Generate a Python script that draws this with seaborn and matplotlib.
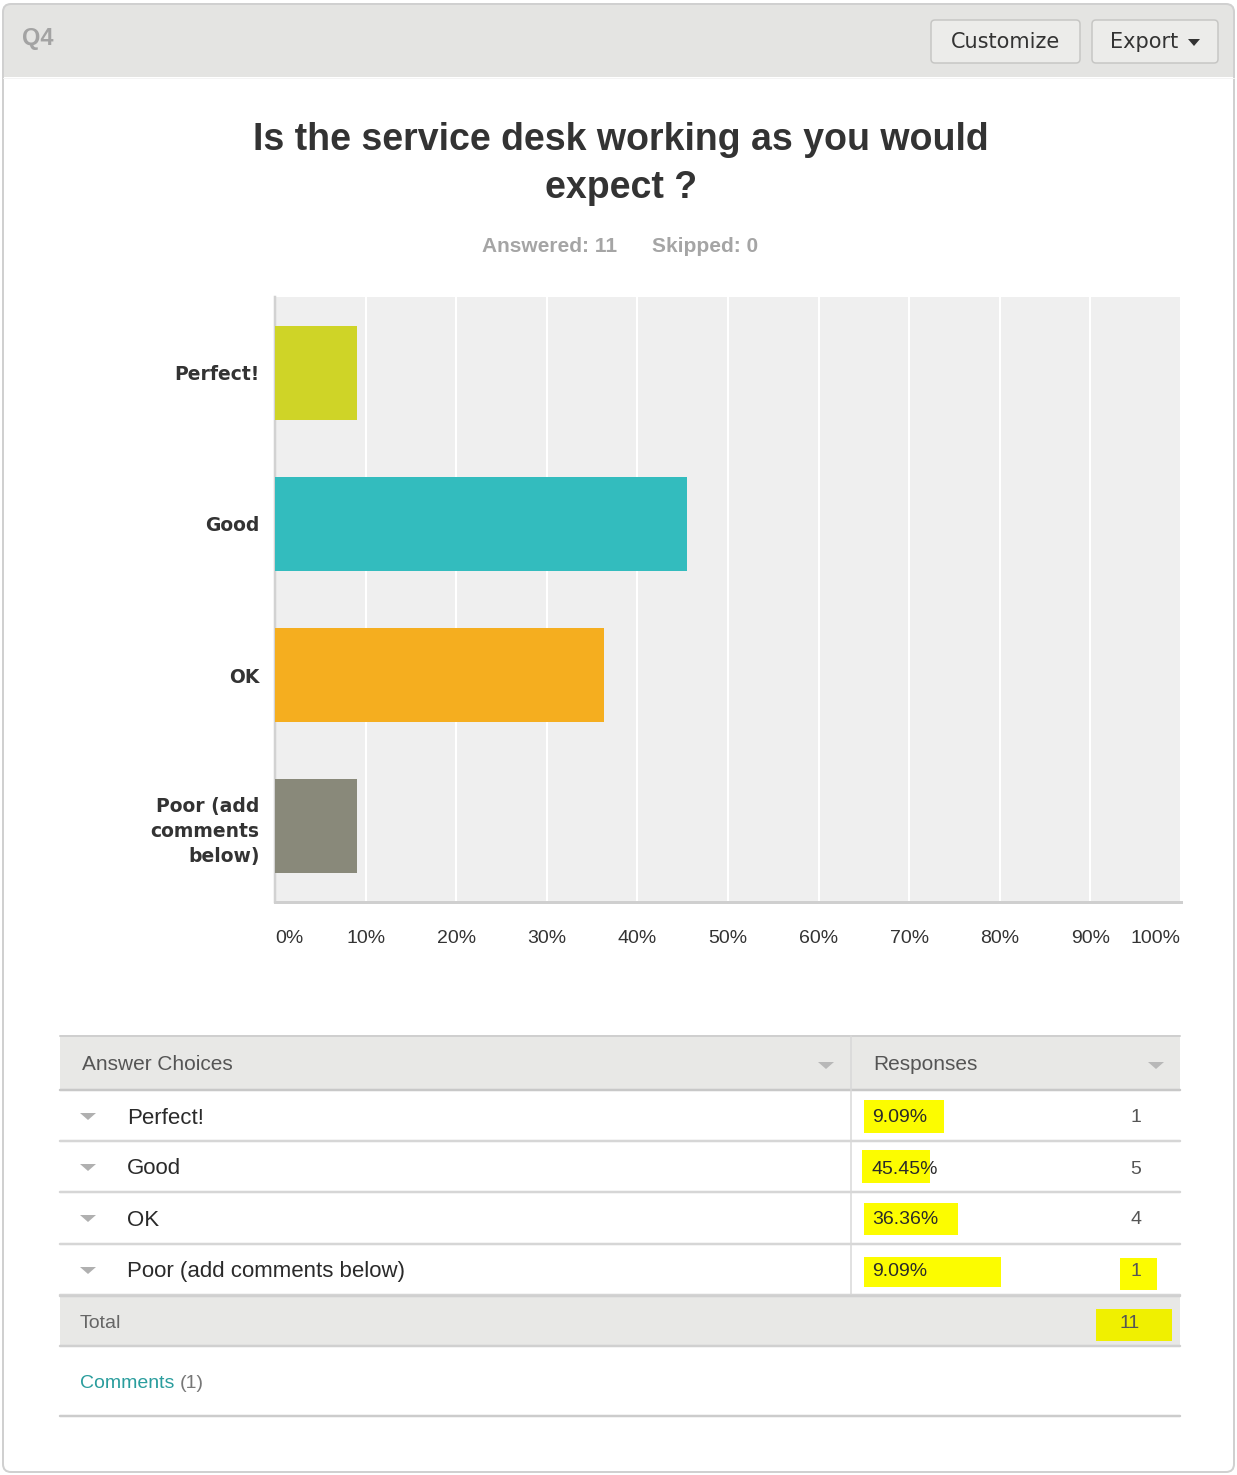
import textwrap
import numpy as np
import pandas as pd
import matplotlib
matplotlib.use("Agg")
import matplotlib.pyplot as plt
from matplotlib.patches import Rectangle, FancyBboxPatch, Polygon
import seaborn as sns

# ---------------- data ----------------
question_id = "Q4"
title = "Is the service desk working as you would\nexpect ?"
answered = 11
skipped = 0
categories = ["Perfect!", "Good", "OK", "Poor (add comments below)"]
percents = [9.09, 45.45, 36.36, 9.09]
counts = [1, 5, 4, 1]
bar_colors = ["#cfd427", "#33bcbe", "#f5ae1f", "#89897a"]
x_ticks = [0, 10, 20, 30, 40, 50, 60, 70, 80, 90, 100]
x_tick_labels = [f"{t}%" for t in x_ticks]
comments_count = 1

# ---------------- setup ----------------
sns.set_theme(style="white")
plt.rcParams["font.family"] = ["Liberation Sans", "DejaVu Sans"]

W, H = 1237, 1475
fig = plt.figure(figsize=(W / 100, H / 100), dpi=100)
PX = 0.72  # points per pixel

bg = fig.add_axes([0, 0, 1, 1])
bg.set_xlim(0, W)
bg.set_ylim(H, 0)
bg.axis("off")

# outer panel
bg.add_patch(FancyBboxPatch((3, 4), 1231, 1468, boxstyle="round,pad=0,rounding_size=8",
                            fc="white", ec="none"))
bg.add_patch(FancyBboxPatch((3, 4), 1231, 73, boxstyle="round,pad=0,rounding_size=8",
                            fc="#e4e4e2", ec="none"))
bg.add_patch(Rectangle((3, 50), 1231, 27, fc="#e4e4e2", ec="none"))
bg.plot([3, 1234], [77.5, 77.5], color="#f4f4f4", lw=1 * PX)
bg.add_patch(FancyBboxPatch((3, 4), 1231, 1468, boxstyle="round,pad=0,rounding_size=8",
                            fc="none", ec="#d0d0d0", lw=2 * PX))

# header text and buttons
bg.text(22, 39, question_id, fontsize=17, fontweight="bold", color="#a3a3a3",
        ha="left", va="center")


def button(x0, x1, y0, y1):
    bg.add_patch(FancyBboxPatch((x0, y0), x1 - x0, y1 - y0,
                                boxstyle="round,pad=0,rounding_size=4",
                                fc="#ececea", ec="#c6c6c4", lw=1.5 * PX))


button(931, 1080, 20, 63)
button(1092, 1218, 20, 63)
bg.text(1005, 42, "Customize", fontsize=15, family="DejaVu Sans", color="#333333",
        ha="center", va="center")
bg.text(1110, 42, "Export", fontsize=15, family="DejaVu Sans", color="#333333",
        ha="left", va="center")
bg.add_patch(Polygon([[1188, 39], [1200, 39], [1194, 46]], closed=True, fc="#333333", ec="none"))

# title
for i, line in enumerate(title.split("\n")):
    bg.text(621, 140 + 48 * i, line, fontsize=27, fontweight="bold", color="#333333",
            ha="center", va="center")
bg.text(482, 247, f"Answered: {answered}", fontsize=15, fontweight="bold",
        color="#a5a5a5", ha="left", va="center")
bg.text(652, 247, f"Skipped: {skipped}", fontsize=15, fontweight="bold",
        color="#a5a5a5", ha="left", va="center")

# ---------------- chart ----------------
ax = fig.add_axes([275 / W, 1 - 902 / H, 906 / W, 605 / H])
ax.set_facecolor("#efefef")
df = pd.DataFrame({"category": categories, "percent": percents})
sns.barplot(data=df, x="percent", y="category", hue="category", palette=bar_colors,
            orient="h", width=0.62, legend=False, saturation=1, ax=ax, zorder=3,
            linewidth=0, edgecolor="none")
ax.set_xlim(0, 100)
ax.set_ylim(3.5, -0.5)
ax.set_xticks(x_ticks)
ax.set_xticklabels(x_tick_labels)
ax.set_yticks(range(len(categories)))
ax.set_yticklabels([textwrap.fill(c, 9) for c in categories])
ax.set_xlabel("")
ax.set_ylabel("")
ax.set_axisbelow(True)
ax.xaxis.grid(True, color="white", lw=2 * PX)
ax.yaxis.grid(False)
ax.tick_params(axis="x", length=0, pad=20, labelsize=14, labelcolor="#333333")
ax.tick_params(axis="y", length=0, pad=11, labelsize=13.5, labelcolor="#333333")
for lab in ax.get_yticklabels():
    lab.set_family("DejaVu Sans")
    lab.set_fontweight("bold")
    lab.set_linespacing(1.4)
xl = ax.get_xticklabels()
xl[0].set_ha("left")
xl[-1].set_ha("right")
for s in ["top", "right"]:
    ax.spines[s].set_visible(False)
ax.spines["left"].set_color("#d2d2d2")
ax.spines["left"].set_linewidth(2.5 * PX)
ax.spines["bottom"].set_color("#cfcfcf")
ax.spines["bottom"].set_linewidth(3 * PX)

# ---------------- table ----------------
TL, TR, TC = 60, 1180, 851
# header
bg.add_patch(Rectangle((TL, 1036), TR - TL, 54, fc="#e8e8e6", ec="none"))
bg.plot([TL, TR], [1036, 1036], color="#cfcfcf", lw=2 * PX)
bg.plot([TL, TR], [1090, 1090], color="#c8c8c8", lw=2.5 * PX)
bg.text(82, 1065, "Answer Choices", fontsize=15, color="#555555", ha="left", va="center")
bg.text(873, 1065, "Responses", fontsize=15, color="#555555", ha="left", va="center")
for tx in (826, 1156):
    bg.add_patch(Polygon([[tx - 8, 1062], [tx + 8, 1062], [tx, 1069]], closed=True,
                         fc="#b8b8b8", ec="none"))

# highlights (yellow marker)
for (x0, y0, x1, y1) in [(864, 1100, 944, 1133), (862, 1150, 930, 1183),
                         (864, 1203, 958, 1235), (864, 1257, 1001, 1287),
                         (1120, 1258, 1157, 1290), (1096, 1309, 1172, 1341)]:
    bg.add_patch(Rectangle((x0, y0), x1 - x0, y1 - y0, fc="#fcfc00", ec="none"))

row_y = [1118, 1169, 1220, 1272]
row_sep = [1141, 1192, 1244, 1295]
for cat, pct, cnt, y, ys in zip(categories, percents, counts, row_y, row_sep):
    bg.add_patch(Polygon([[80, y - 5], [96, y - 5], [88, y + 2]], closed=True,
                         fc="#b0b0b0", ec="none"))
    bg.text(127, y, cat, fontsize=16, color="#2a2a2a", ha="left", va="center")
    bg.text(872, y, f"{pct:.2f}%", fontsize=14, color="#2a2a2a", ha="left", va="center")
    bg.text(1136, y, f"{cnt}", fontsize=14, color="#555555", ha="center", va="center")
    bg.plot([TL, TR], [ys, ys], color="#d6d6d6", lw=2.5 * PX)
bg.plot([TC, TC], [1036, 1295], color="#d8d8d8", lw=1.5 * PX)

# total row
bg.add_patch(Rectangle((TL, 1296), TR - TL, 50, fc="#e8e8e6", ec="none"))
bg.plot([TL, TR], [1296, 1296], color="#d0d0d0", lw=2.5 * PX)
bg.plot([TL, TR], [1346, 1346], color="#d0d0d0", lw=2.5 * PX)
bg.add_patch(Rectangle((1096, 1309), 76, 32, fc="#f0f000", ec="none"))
bg.text(80, 1323, "Total", fontsize=14, color="#666666", ha="left", va="center")
bg.text(1130, 1323, f"{sum(counts)}", fontsize=14, color="#555555", ha="center", va="center")

# comments
bg.text(80, 1384, "Comments", fontsize=14, color="#2a9d9d", ha="left", va="center")
bg.text(180, 1384, f"({comments_count})", fontsize=14, color="#777777", ha="left", va="center")
bg.plot([TL, TR], [1416, 1416], color="#cccccc", lw=2.5 * PX)

fig.savefig("out.png", dpi=100)
